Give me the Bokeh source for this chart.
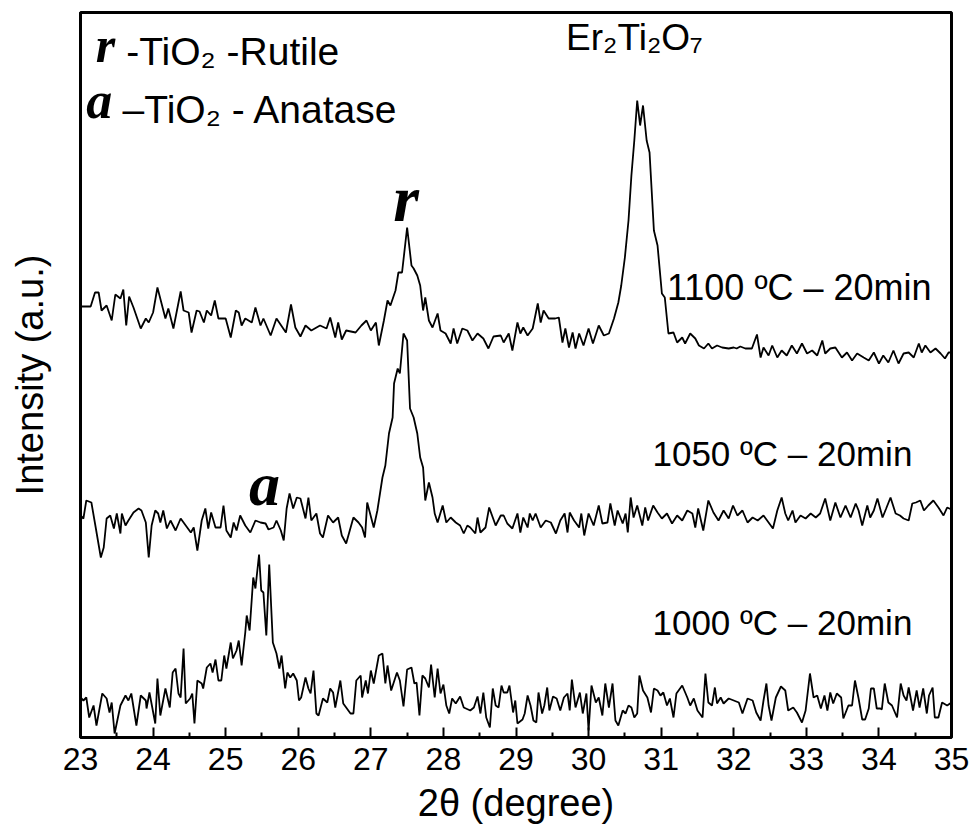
from bokeh.plotting import figure
from bokeh.models import Range1d, Label, FixedTicker
from bokeh.embed import file_html
from bokeh.resources import INLINE

# ---------------- data ----------------
two_theta_1100 = [
    23.00, 23.14, 23.20, 23.25, 23.29, 23.36, 23.43, 23.48, 23.55, 23.59,
    23.63, 23.67, 23.73, 23.83, 23.90, 23.94, 24.00, 24.06, 24.17, 24.21,
    24.28, 24.38, 24.42, 24.49, 24.53, 24.60, 24.64, 24.70, 24.74, 24.80,
    24.85, 24.90, 25.00, 25.07, 25.14, 25.18, 25.22, 25.27, 25.36, 25.41,
    25.48, 25.52, 25.62, 25.70, 25.83, 25.90, 25.96, 26.03, 26.10, 26.18,
    26.30, 26.39, 26.44, 26.51, 26.55, 26.60, 26.66, 26.79, 26.87, 26.94,
    27.00, 27.07, 27.11, 27.18, 27.23, 27.27, 27.34, 27.38, 27.43, 27.50,
    27.56, 27.59, 27.64, 27.68, 27.72, 27.75, 27.80, 27.85, 27.92, 27.96,
    28.03, 28.10, 28.14, 28.19, 28.26, 28.33, 28.40, 28.47, 28.55, 28.62,
    28.69, 28.79, 28.83, 28.90, 28.95, 29.02, 29.06, 29.10, 29.16, 29.23,
    29.30, 29.34, 29.38, 29.45, 29.54, 29.59, 29.64, 29.68, 29.73, 29.78,
    29.82, 29.87, 29.93, 30.00, 30.06, 30.14, 30.21, 30.28, 30.35, 30.41,
    30.45, 30.50, 30.55, 30.59, 30.63, 30.67, 30.71, 30.75, 30.80, 30.84,
    30.90, 30.95, 31.01, 31.05, 31.10,
    31.17, 31.22, 31.29, 31.33, 31.40, 31.47, 31.52, 31.59, 31.65, 31.70,
    31.77, 31.84, 31.93, 32.00, 32.04, 32.09, 32.16, 32.25, 32.32, 32.37,
    32.41, 32.48, 32.53, 32.60, 32.66, 32.73, 32.80, 32.87, 32.94, 33.01,
    33.08, 33.15, 33.22, 33.26, 33.33, 33.40, 33.49, 33.56, 33.63, 33.70,
    33.79, 33.86, 33.93, 34.00, 34.06, 34.13, 34.20, 34.27, 34.34, 34.41,
    34.48, 34.55, 34.59, 34.64, 34.71, 34.78, 34.85, 34.91, 34.96, 35.00,
]
intensity_1100 = [
    431, 431, 445, 445, 427, 432, 417, 443, 439, 448,
    412, 441, 430, 409, 419, 415, 425, 450, 419, 429,
    409, 446, 427, 425, 405, 427, 426, 415, 427, 422,
    437, 419, 419, 400, 427, 425, 412, 419, 415, 430,
    412, 419, 402, 419, 405, 433, 410, 401, 412, 407,
    412, 409, 420, 400, 415, 398, 407, 405, 412, 417,
    407, 415, 392, 417, 437, 432, 447, 465, 465, 510,
    472, 469, 462, 452, 427, 440, 417, 410, 424, 407,
    404, 394, 409, 394, 409, 407, 397, 404, 399, 389,
    401, 402, 395, 404, 387, 415, 404, 410, 402, 409,
    434, 415, 427, 419, 419, 420, 395, 409, 390, 405,
    389, 404, 392, 409, 394, 412, 402, 404, 419, 435,
    452, 480, 517, 562, 597, 637, 612, 632, 597, 585,
    507, 492, 444, 440, 404,
    405, 395, 400, 394, 404, 399, 392, 389, 394, 389,
    392, 390, 389, 390, 389, 391, 389, 389, 403, 380,
    390, 382, 392, 380, 387, 382, 392, 384, 394, 384,
    387, 382, 397, 384, 389, 390, 380, 385, 377, 384,
    380, 377, 385, 374, 382, 375, 387, 374, 384, 385,
    380, 394, 385, 392, 385, 389, 384, 379, 385, 385,
]

two_theta_1050 = [
    23.00, 23.04, 23.08, 23.15, 23.20, 23.28, 23.32, 23.36, 23.41, 23.46,
    23.50, 23.55, 23.57, 23.62, 23.66, 23.73, 23.80, 23.84, 23.90, 23.94,
    23.98, 24.03, 24.07, 24.10, 24.14, 24.19, 24.24, 24.31, 24.38, 24.45,
    24.52, 24.56, 24.61, 24.67, 24.72, 24.76, 24.80, 24.86, 24.93, 24.97,
    25.01, 25.07, 25.11, 25.15, 25.20, 25.27, 25.34, 25.41, 25.48, 25.55,
    25.59, 25.66, 25.70, 25.76, 25.80, 25.84, 25.88, 25.93, 25.98, 26.03,
    26.10, 26.14, 26.18, 26.25, 26.30, 26.34, 26.41, 26.48, 26.55, 26.60,
    26.66, 26.76, 26.83, 26.88, 26.92, 26.95,
    27.04, 27.09, 27.16, 27.20, 27.25, 27.30, 27.32, 27.37, 27.40, 27.45,
    27.50, 27.54, 27.59, 27.64, 27.68, 27.72, 27.75, 27.80, 27.85, 27.88,
    27.92, 27.99, 28.04, 28.10, 28.17, 28.23, 28.28, 28.33, 28.37, 28.44,
    28.47, 28.51, 28.58, 28.63, 28.72, 28.79, 28.83, 28.88, 28.95, 29.02,
    29.06, 29.10, 29.16, 29.19, 29.23, 29.27, 29.34, 29.41, 29.48, 29.55,
    29.61, 29.67, 29.71, 29.74, 29.80, 29.87, 29.90, 29.94, 30.00, 30.07,
    30.14, 30.19, 30.26, 30.30, 30.36, 30.40, 30.47, 30.51, 30.54, 30.58,
    30.62, 30.67, 30.74, 30.78, 30.82, 30.89,
    30.95, 31.01, 31.08, 31.15, 31.22, 31.29, 31.36, 31.43, 31.47, 31.51,
    31.58, 31.65, 31.72, 31.79, 31.86, 31.93, 31.99, 32.05, 32.12, 32.19,
    32.26, 32.33, 32.41, 32.48, 32.54, 32.60, 32.66, 32.71, 32.75, 32.81,
    32.85, 32.92, 32.99, 33.06, 33.13, 33.19, 33.26, 33.33, 33.40, 33.47,
    33.54, 33.61, 33.68, 33.72, 33.77, 33.84, 33.88, 33.93, 33.98, 34.05,
    34.10, 34.16, 34.23, 34.29, 34.34, 34.41, 34.46, 34.51, 34.57, 34.62,
    34.68, 34.75, 34.82, 34.89, 34.94, 35.00,
]
intensity_1050 = [
    222, 219, 237, 235, 214, 180, 190, 219, 222, 209,
    224, 204, 224, 212, 217, 225, 229, 227, 215, 180,
    212, 227, 224, 215, 227, 209, 217, 207, 219, 212,
    205, 210, 187, 217, 229, 209, 225, 210, 210, 232,
    207, 200, 215, 207, 222, 212, 205, 217, 215, 214,
    208, 210, 217, 207, 197, 229, 244, 229, 240, 239,
    219, 240, 217, 224, 204, 200, 222, 215, 220, 202,
    194, 220, 215, 210, 200, 235,
    210, 227, 260, 272, 304, 320, 354, 369, 364, 404,
    397, 329, 320, 304, 280, 270, 237, 255, 240, 224,
    215, 232, 215, 220, 215, 212, 204, 212, 210, 204,
    220, 205, 210, 230, 212, 222, 222, 214, 209, 224,
    205, 220, 210, 224, 217, 224, 210, 217, 215, 204,
    217, 224, 205, 225, 217, 210, 224, 202, 224, 212,
    232, 214, 215, 234, 212, 227, 214, 224, 205, 240,
    220, 232, 212, 230, 217, 232,
    225, 219, 224, 214, 222, 217, 227, 224, 210, 229,
    207, 237, 225, 217, 227, 219, 232, 222, 227, 215,
    220, 217, 222, 215, 209, 227, 240, 224, 217, 227,
    215, 222, 219, 224, 220, 224, 239, 217, 235, 220,
    232, 220, 234, 227, 212, 232, 220, 227, 239, 220,
    229, 240, 224, 222, 219, 217, 234, 235, 237, 227,
    232, 237, 230, 222, 230, 228,
]

two_theta_1000 = [
    23.00, 23.04, 23.08, 23.12, 23.18, 23.22, 23.30, 23.36, 23.40, 23.43,
    23.47, 23.55, 23.62, 23.66, 23.70, 23.77, 23.83, 23.90, 23.91, 23.95,
    24.03, 24.06, 24.10, 24.17, 24.23, 24.27, 24.31, 24.35, 24.38, 24.42,
    24.45, 24.51, 24.54, 24.57, 24.61, 24.67, 24.69, 24.74, 24.79, 24.82,
    24.86, 24.90, 24.94, 24.98, 25.01, 25.07, 25.10, 25.15, 25.18, 25.22,
    25.27, 25.29, 25.33, 25.38, 25.41, 25.46, 25.49, 25.52, 25.56, 25.60,
    25.65, 25.70, 25.74, 25.77, 25.82, 25.85, 25.89, 25.93, 25.98, 26.01,
    26.04, 26.10, 26.14, 26.17, 26.21, 26.25, 26.28, 26.34, 26.40, 26.44,
    26.48, 26.51, 26.58, 26.62, 26.66, 26.72, 26.76, 26.80, 26.86, 26.88,
    26.93, 26.96,
    27.00, 27.04, 27.11, 27.16, 27.20, 27.23, 27.28, 27.36, 27.40, 27.45,
    27.50, 27.56, 27.60, 27.63, 27.67, 27.71, 27.75, 27.80, 27.83, 27.88,
    27.92, 27.96, 28.00, 28.04, 28.08, 28.12, 28.17, 28.23, 28.28, 28.37,
    28.42, 28.47, 28.51, 28.55, 28.59, 28.64, 28.68, 28.72, 28.76, 28.80,
    28.83, 28.88, 28.91, 28.96, 28.99, 29.02, 29.09, 29.12, 29.16, 29.20,
    29.24, 29.28, 29.31, 29.36, 29.39, 29.43, 29.46, 29.51, 29.56, 29.61,
    29.66, 29.71, 29.74, 29.77, 29.82, 29.88, 29.92, 29.97, 30.00, 30.04,
    30.10, 30.14, 30.19, 30.23, 30.28, 30.33, 30.37, 30.41, 30.47, 30.51,
    30.55, 30.59, 30.63, 30.67, 30.70, 30.75, 30.81, 30.86,
    30.90, 30.95, 30.99, 31.03, 31.08, 31.12, 31.17, 31.21, 31.29, 31.36,
    31.40, 31.45, 31.50, 31.57, 31.61, 31.65, 31.70, 31.74, 31.77, 31.82,
    31.86, 31.93, 32.00, 32.07, 32.12, 32.19, 32.26, 32.31, 32.37, 32.41,
    32.45, 32.48, 32.52, 32.58, 32.65, 32.71, 32.75, 32.82, 32.87, 32.94,
    32.99, 33.05, 33.10, 33.15, 33.20, 33.25, 33.29, 33.33, 33.37, 33.42,
    33.48, 33.51, 33.58, 33.63, 33.67, 33.72, 33.77, 33.81, 33.86, 33.89,
    33.93, 33.97, 34.02, 34.04, 34.08, 34.13, 34.18, 34.25, 34.30, 34.34,
    34.38, 34.41, 34.47, 34.52, 34.56, 34.61, 34.66, 34.69, 34.74, 34.77,
    34.82, 34.87, 34.94, 35.00,
]
intensity_1000 = [
    40, 37, 40, 20, 32, 12, 44, 39, 25, 35,
    4, 32, 42, 37, 44, 12, 42, 37, 29, 45,
    14, 59, 22, 49, 30, 65, 69, 44, 40, 89,
    34, 39, 44, 14, 57, 54, 49, 70, 74, 65,
    78, 57, 57, 82, 69, 95, 79, 87, 97, 72,
    105, 122, 107, 160, 149, 183, 147, 145, 102, 173,
    95, 84, 69, 82, 49, 65, 60, 64, 57, 37,
    40, 60, 49, 44, 67, 24, 22, 39, 35, 49,
    45, 30, 57, 34, 30, 24, 24, 57, 62, 40,
    57, 44,
    67, 54, 82, 84, 54, 72, 47, 65, 57, 31,
    68, 70, 54, 55, 22, 62, 59, 50, 73, 40,
    69, 44, 53, 32, 24, 39, 34, 41, 30, 27,
    30, 41, 24, 45, 20, 10, 49, 32, 30, 52,
    45, 45, 52, 25, 37, 14, 18, 24, 42, 32,
    17, 15, 45, 24, 32, 50, 27, 41, 39, 27,
    40, 44, 27, 58, 30, 45, 24, 44, 7, 52,
    35, 40, 22, 54, 30, 54, 17, 12, 27, 24,
    32, 30, 20, 24, 62, 47, 40, 25,
    49, 47, 42, 45, 32, 39, 20, 44, 52, 40,
    32, 39, 27, 20, 64, 35, 32, 50, 34, 40,
    34, 39, 37, 35, 24, 39, 37, 25, 17, 37,
    54, 32, 17, 40, 51, 47, 27, 30, 25, 15,
    27, 64, 40, 42, 29, 42, 27, 45, 34, 44,
    40, 19, 32, 32, 57, 39, 18, 18, 29, 49,
    49, 29, 29, 28, 54, 35, 32, 20, 54, 42,
    37, 50, 27, 47, 30, 49, 24, 42, 50, 20,
    20, 35, 32, 35,
]

x_ticks = [23, 24, 25, 26, 27, 28, 29, 30, 31, 32, 33, 34, 35]
x_minor_ticks = [23.5, 24.5, 25.5, 26.5, 27.5, 28.5, 29.5, 30.5, 31.5, 32.5, 33.5, 34.5]
series_labels = ["1100 ºC – 20min", "1050 ºC – 20min", "1000 ºC – 20min"]

# ---------------- figure ----------------
SANS = "Liberation Sans"
SERIF = "Liberation Serif"

p = figure(width=977, height=837, output_backend="svg", toolbar_location=None,
           x_range=Range1d(23, 35), y_range=Range1d(0, 725),
           min_border_left=80, min_border_right=26, min_border_top=12,
           min_border_bottom=100)
p.background_fill_color = "white"
p.border_fill_color = "white"
p.xgrid.visible = False
p.ygrid.visible = False
p.outline_line_color = "black"
p.outline_line_width = 3

for xs, ys in [(two_theta_1100, intensity_1100),
               (two_theta_1050, intensity_1050),
               (two_theta_1000, intensity_1000)]:
    p.line(xs, ys, line_color="black", line_width=1.8)

# bottom axis
xa = p.xaxis[0]
xa.ticker = FixedTicker(ticks=x_ticks, minor_ticks=x_minor_ticks)
xa.axis_line_color = "black"
xa.axis_line_width = 3
xa.major_tick_in = 10
xa.major_tick_out = 0
xa.minor_tick_in = 5
xa.minor_tick_out = 0
xa.major_tick_line_width = 2
xa.minor_tick_line_width = 2
xa.major_tick_line_color = "black"
xa.minor_tick_line_color = "black"
xa.major_label_text_font = SANS
xa.major_label_text_font_size = "32px"
xa.major_label_text_color = "black"
xa.major_label_standoff = 10
xa.axis_label = "2θ (degree)"
xa.axis_label_text_font = SANS
xa.axis_label_text_font_style = "normal"
xa.axis_label_text_font_size = "38px"
xa.axis_label_text_color = "black"
xa.axis_label_standoff = 9

# left axis: no ticks, only the title
ya = p.yaxis[0]
ya.ticker = FixedTicker(ticks=[])
ya.axis_line_color = "black"
ya.axis_line_width = 3
ya.major_tick_line_color = None
ya.minor_tick_line_color = None
ya.major_label_text_font_size = "0px"
ya.axis_label = "Intensity (a.u.)"
ya.axis_label_text_font = SANS
ya.axis_label_text_font_style = "normal"
ya.axis_label_text_font_size = "38px"
ya.axis_label_text_color = "black"
ya.axis_label_standoff = 30


def add_text(x, y, text, size, font=SANS, style="normal"):
    p.add_layout(Label(x=x, y=y, text=text, text_font=font,
                       text_font_style=style, text_font_size=size,
                       text_color="black", text_baseline="alphabetic",
                       text_align="left"))


# legend block (top-left)
add_text(23.21, 693, "r", "50px", SERIF, "bold italic")
add_text(23.63, 686, "-TiO₂ -Rutile", "39px")
add_text(23.08, 637, "a", "52px", SERIF, "bold italic")
add_text(23.58, 628, "–TiO₂ - Anatase", "39px")

# phase labels
add_text(29.69, 700, "Er₂Ti₂O₇", "37px")
add_text(27.31, 539, "r", "66px", SERIF, "bold italic")
add_text(25.32, 254, "a", "62px", SERIF, "bold italic")

# series labels
add_text(31.08, 450, series_labels[0], "36px")
add_text(30.88, 284, series_labels[1], "35px")
add_text(30.88, 115, series_labels[2], "35px")

open("out.html", "w").write(file_html(p, INLINE))
